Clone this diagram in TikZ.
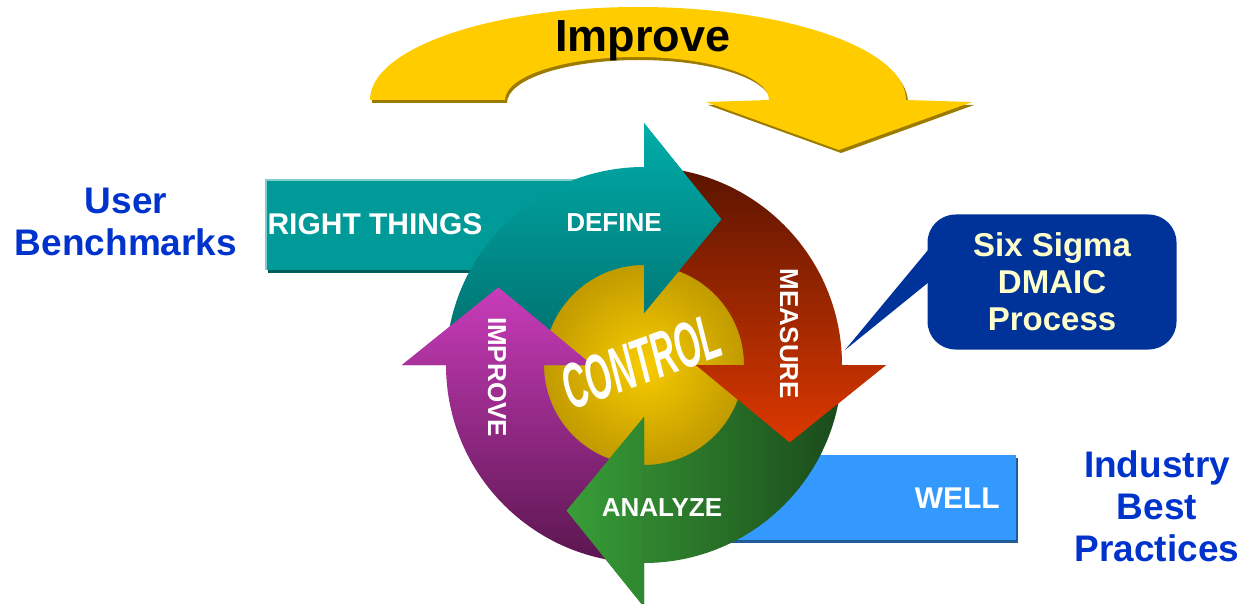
\documentclass[tikz,border=0pt]{standalone}
\usepackage{fontspec}
\setmainfont{Liberation Sans}

\definecolor{gold}{HTML}{FFCC00}
\definecolor{golddark}{HTML}{9C7B00}
\definecolor{textblue}{HTML}{0033CC}
\definecolor{dmaicblue}{HTML}{003399}
\definecolor{cream}{HTML}{FFFFCC}
\definecolor{barteal}{HTML}{009A98}
\definecolor{wellblue}{HTML}{3399FF}
\definecolor{deftop}{HTML}{00ADAA}
\definecolor{defbot}{HTML}{006C6A}
\definecolor{meastop}{HTML}{5A1400}
\definecolor{measbot}{HTML}{DC3800}
\definecolor{analeft}{HTML}{389E37}
\definecolor{anaright}{HTML}{1A4A1B}
\definecolor{imptop}{HTML}{C83CBA}
\definecolor{impbot}{HTML}{5A164E}
\definecolor{ctrin}{HTML}{F8CC00}
\definecolor{ctrout}{HTML}{876600}

% a quarter of the ring with its head, #1 = angle where the head sits
\newcommand{\cyclearrow}[1]{(#1+90:198) arc[start angle=#1+90, end angle=#1, radius=198] -- (#1:242) -- (#1-28:165) -- (#1:52) -- (#1:100) arc[start angle=#1, end angle=#1+90, radius=100] -- cycle}
\newcommand{\cyclehead}[1]{(#1:242) -- (#1-28:165) -- (#1:52) -- cycle}
% the big curved arrow on top
\newcommand{\overarrow}{(370,100) arc[start angle=180, end angle=360, x radius=268, y radius=93] -- (972,102) -- (839,150) -- (706,102) -- (769,100) arc[start angle=360, end angle=180, x radius=132, y radius=43] -- cycle}

\begin{document}
\begin{tikzpicture}[x=1pt, y=-1pt,
  ringlabel/.style={text=white, inner sep=0pt, font=\fontsize{26}{26}\selectfont\bfseries},
  bluetext/.style={text=textblue, align=center, inner sep=0pt, font=\fontsize{37}{42}\selectfont\bfseries},
  bartext/.style={text=white, inner sep=0pt, font=\fontsize{30}{30}\selectfont\bfseries}]
\useasboundingbox (0,0) rectangle (1242,604);

% side texts
\node[bluetext] (user) at (126,222) {User\\Benchmarks};
\node[bluetext] (industry) at (1157,506) {Industry\\Best\\Practices};

% bars going into the ring
\fill[barteal!60!black, shift={(2,3)}] (266,180) rectangle (620,270);
\fill[barteal] (266,180) rectangle (620,270);
\draw[barteal!50!white, line width=1.5] (266,270) -- (266,180) -- (620,180);
\node[bartext, anchor=base] (rightthings) at (375,235) {RIGHT THINGS};
\fill[wellblue!60!black, shift={(2,3)}] (700,455) rectangle (1016,540);
\fill[wellblue] (700,455) rectangle (1016,540);
\node[bartext, anchor=base east] (well) at (1000,508) {WELL};

% callout
\node[fill=dmaicblue, rounded corners=28, minimum width=249, minimum height=135,
  text=cream, align=center, inner sep=0pt,
  font=\fontsize{33}{37}\selectfont\bfseries] (dmaic) at (1052,282) {Six Sigma\\DMAIC\\Process};
\coordinate (dmaictip) at (845,350);
\fill[dmaicblue] (dmaictip) -- ([shift={(14,-10)}]dmaic.west) -- ([shift={(14,-48)}]dmaic.west) -- cycle;

% improve arrow
\fill[golddark, shift={(2,3)}] \overarrow;
\fill[gold] \overarrow;
\node[anchor=base, font=\fontsize{45}{45}\selectfont\bfseries] (improve) at (643,52) {Improve};

% the DMAIC ring
\begin{scope}[shift={(644,365)}, y=1]
  \begin{scope}
    \clip (0,0) circle (103);
    \shade[inner color=ctrin, outer color=ctrout] (0,0) circle (206);
  \end{scope}
  \shade[top color=deftop, bottom color=defbot] \cyclearrow{90};
  \shade[top color=meastop, bottom color=measbot] \cyclearrow{0};
  \shade[left color=analeft, right color=anaright] \cyclearrow{-90};
  \shade[top color=imptop, bottom color=impbot] \cyclearrow{180};
  % heads lie over the next band
  \begin{scope}
    \clip \cyclehead{90};
    \shade[top color=deftop, bottom color=defbot] \cyclearrow{90};
  \end{scope}
  \begin{scope}
    \clip \cyclehead{0};
    \shade[top color=meastop, bottom color=measbot] \cyclearrow{0};
  \end{scope}
  \begin{scope}
    \clip \cyclehead{-90};
    \shade[left color=analeft, right color=anaright] \cyclearrow{-90};
  \end{scope}
  \begin{scope}
    \clip \cyclehead{180};
    \shade[top color=imptop, bottom color=impbot] \cyclearrow{180};
  \end{scope}
\end{scope}

\node[ringlabel] (define) at (614,223) {DEFINE};
\node[ringlabel, rotate=-90] (measure) at (789,334) {MEASURE};
\node[ringlabel] (analyze) at (662,508) {ANALYZE};
\node[ringlabel, rotate=-90] (improvelabel) at (497,377) {IMPROVE};
\node[text=white, inner sep=0pt, rotate=20, xscale=0.52,
  font=\fontsize{64}{64}\selectfont\bfseries\itshape] (control) at (641,362) {CONTROL};
\end{tikzpicture}
\end{document}
